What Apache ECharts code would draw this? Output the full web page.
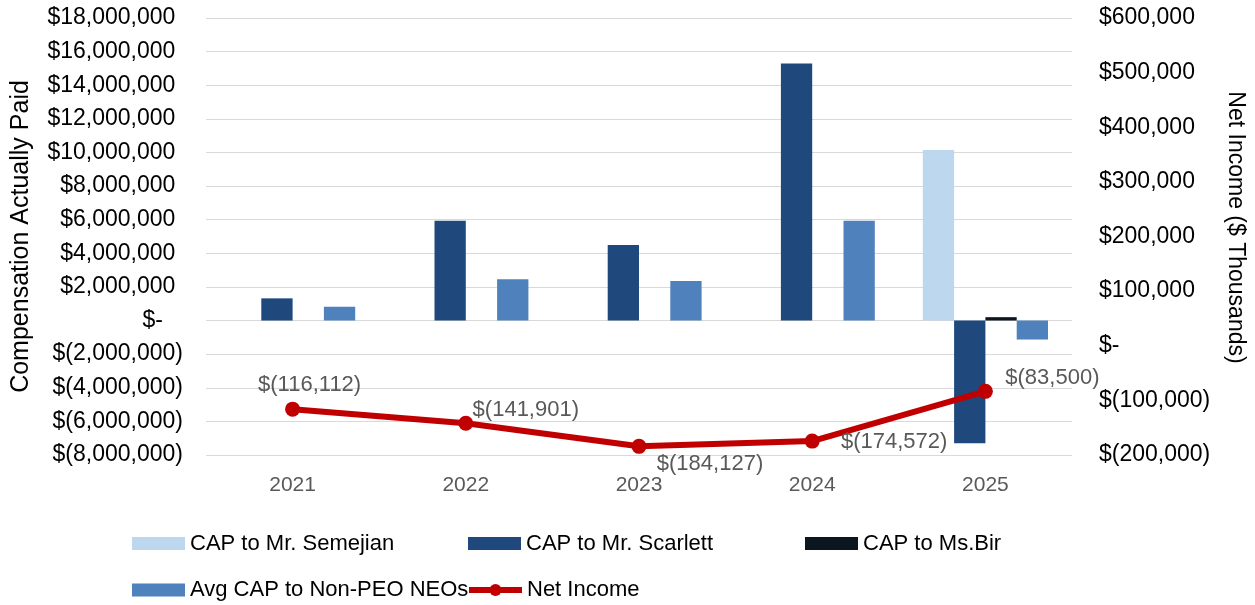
<!DOCTYPE html>
<html>
<head>
<meta charset="utf-8">
<script src="https://cdn.jsdelivr.net/npm/echarts@6/dist/echarts.min.js"></script>
<style>
html,body{margin:0;padding:0;background:#fff;}
#chart{width:1255px;height:605px;}
</style>
</head>
<body>
<div id="chart"></div>
<script>
const categories = ['2021', '2022', '2023', '2024', '2025'];
const capSemejian = [null, null, null, null, 10150000];
const capScarlett = [1320000, 5930000, 4490000, 15300000, -7300000];
const capBir = [null, null, null, null, 200000];
const avgNonPeo = [820000, 2460000, 2350000, 5930000, -1130000];
const netIncome = [-116112, -141901, -184127, -174572, -83500];

const leftTicks = { min: -8000000, max: 18000000, interval: 2000000 };
const rightTicks = { min: -200000, max: 600000, interval: 100000 };

const FONT = '"Liberation Sans", Arial, sans-serif';
const labelOffsets = [[17, -24], [60, -13], [71, 18], [82, 1], [67, -13]];

function fmtNum(n) {
  return Math.abs(Math.round(n)).toString().replace(/\B(?=(\d{3})+(?!\d))/g, ',');
}
function acct(v) {
  if (v === 0) return '$-';
  if (v < 0) return '$(' + fmtNum(v) + ')';
  return '$' + fmtNum(v);
}

const chart = echarts.init(document.getElementById('chart'), null, { renderer: 'canvas' });

function legendAt(name, left, top, extra) {
  return Object.assign({
    data: [name],
    left: left, top: top,
    padding: 0,
    icon: 'rect',
    itemWidth: 53, itemHeight: 13,
    itemGap: 0,
    selectedMode: false,
    textStyle: { fontFamily: FONT, fontSize: 22, color: '#000', lineHeight: 24 }
  }, extra || {});
}

const option = {
  animation: false,
  backgroundColor: '#fff',
  textStyle: { fontFamily: FONT },
  grid: { left: 206, right: 181, top: 18, bottom: 150, containLabel: false },
  legend: [
    legendAt('CAP to Mr. Semejian', 132, 531.5),
    legendAt('CAP to Mr. Scarlett', 468, 531.5),
    legendAt('CAP to Ms.Bir', 805, 531.5),
    legendAt('Avg CAP to Non-PEO NEOs', 132, 578),
    legendAt('Net Income', 466, 578, {
      icon: null,
      itemHeight: 15,
      lineStyle: { width: 6, color: '#C00000' },
      itemStyle: { color: '#C00000' }
    })
  ],
  xAxis: {
    type: 'category',
    data: categories,
    axisLine: { show: false },
    axisTick: { show: false },
    axisLabel: { color: '#595959', fontSize: 21, fontFamily: FONT, margin: 20 }
  },
  yAxis: [
    {
      type: 'value',
      min: leftTicks.min, max: leftTicks.max, interval: leftTicks.interval,
      name: 'Compensation Actually Paid',
      nameLocation: 'middle',
      nameGap: 172,
      nameTextStyle: { fontSize: 25, color: '#000', fontFamily: FONT },
      axisLine: { show: false },
      axisTick: { show: false },
      splitLine: { show: true, lineStyle: { color: '#D9D9D9', width: 1 } },
      axisLabel: {
        margin: 23,
        fontSize: 23, color: '#000', fontFamily: FONT,
        formatter: function (v) {
          if (v === 0) return '$-{z|x}';
          if (v > 0) return acct(v) + '{h|)}';
          return acct(v);
        },
        rich: {
          h: { color: 'rgba(0,0,0,0)', fontSize: 23, fontFamily: FONT },
          z: { color: 'rgba(0,0,0,0)', fontSize: 23, width: 20, fontFamily: FONT }
        }
      }
    },
    {
      type: 'value',
      position: 'right',
      min: rightTicks.min, max: rightTicks.max, interval: rightTicks.interval,
      name: 'Net Income ($ Thousands)',
      nameLocation: 'middle',
      nameGap: 152,
      nameRotate: -90,
      nameTextStyle: { fontSize: 23, color: '#000', fontFamily: FONT, padding: [0, 18, 0, 0] },
      axisLine: { show: false },
      axisTick: { show: false },
      splitLine: { show: false },
      axisLabel: {
        margin: 27,
        fontSize: 23, color: '#000', fontFamily: FONT,
        formatter: function (v) { return acct(v); }
      }
    }
  ],
  series: [
    {
      name: 'CAP to Mr. Semejian', type: 'bar', yAxisIndex: 0,
      data: capSemejian, barWidth: 31.3, barGap: '0%',
      itemStyle: { color: '#BDD7EE' }
    },
    {
      name: 'CAP to Mr. Scarlett', type: 'bar', yAxisIndex: 0,
      data: capScarlett, barWidth: 31.3, barGap: '0%',
      itemStyle: { color: '#1F497D' }
    },
    {
      name: 'CAP to Ms.Bir', type: 'bar', yAxisIndex: 0,
      data: capBir, barWidth: 31.3, barGap: '0%',
      itemStyle: { color: '#0C1621' }
    },
    {
      name: 'Avg CAP to Non-PEO NEOs', type: 'bar', yAxisIndex: 0,
      data: avgNonPeo, barWidth: 31.3, barGap: '0%',
      itemStyle: { color: '#4F81BD' }
    },
    {
      name: 'Net Income', type: 'line', yAxisIndex: 1,
      data: netIncome.map(function (v, i) {
        return { value: v, label: { offset: labelOffsets[i] } };
      }),
      z: 10,
      symbol: 'circle', symbolSize: 15,
      lineStyle: { color: '#C00000', width: 6 },
      itemStyle: { color: '#C00000' },
      label: {
        show: true,
        position: 'inside',
        align: 'center', verticalAlign: 'middle',
        color: '#595959', fontSize: 22, fontFamily: FONT,
        formatter: function (p) { return acct(p.value); }
      }
    }
  ]
};
chart.setOption(option);
</script>
</body>
</html>
